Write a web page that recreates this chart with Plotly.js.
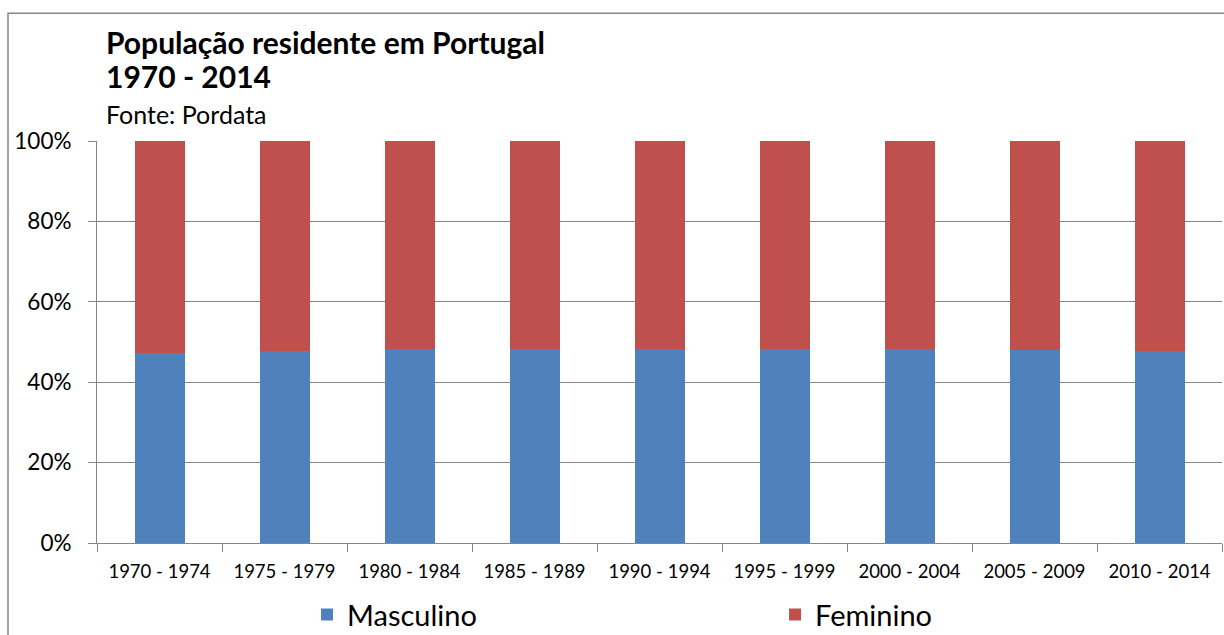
<!DOCTYPE html>
<html>
<head>
<meta charset="utf-8">
<script src="https://cdn.plot.ly/plotly-3.0.1.min.js"></script>
<style>html,body{margin:0;padding:0;background:#fff;}#chart{width:1224px;height:635px;}</style>
</head>
<body>
<div id="chart"></div>
<script>
var periods = ["1970 - 1974","1975 - 1979","1980 - 1984","1985 - 1989","1990 - 1994","1995 - 1999","2000 - 2004","2005 - 2009","2010 - 2014"];
var masculino = [47.3, 47.65, 48.15, 48.15, 48.15, 48.15, 48.15, 48.05, 47.65];
var feminino = masculino.map(function(v){ return 100 - v; });
var yTicks = [0, 20, 40, 60, 80, 100];
var yTickLabels = ["0%", "20%", "40%", "60%", "80%", "100%"];

var font = "Lato, 'Open Sans', sans-serif";
var traces = [
  {type: "bar", name: "Masculino", x: periods, y: masculino, marker: {color: "#4F81BD"}},
  {type: "bar", name: "Feminino", x: periods, y: feminino, marker: {color: "#C0504D"}}
];
var layout = {
  width: 1224, height: 635,
  margin: {l: 97, r: 2, t: 141, b: 92, autoexpand: false},
  barmode: "stack", bargap: 0.6,
  paper_bgcolor: "#fff", plot_bgcolor: "#fff",
  font: {family: font, color: "#000"},
  showlegend: true,
  legend: {orientation: "h", x: 0.1867, xanchor: "left", y: -0.115, yanchor: "top",
           bgcolor: "rgba(0,0,0,0)",
           font: {size: 29, family: font}, entrywidth: 423, entrywidthmode: "pixels",
           itemsizing: "constant", traceorder: "normal"},
  xaxis: {type: "category", tickson: "boundaries", ticks: "outside", ticklen: 8,
          tickcolor: "#868686", showline: true, linecolor: "#868686", linewidth: 1,
          showgrid: false, tickfont: {size: 18.5, family: font}, ticklabelstandoff: 12,
          fixedrange: true},
  yaxis: {range: [0, 100], tickvals: yTicks, ticktext: yTickLabels, ticks: "outside",
          ticklen: 8, tickcolor: "#868686", showline: true, linecolor: "#868686",
          showgrid: true, gridcolor: "#868686", gridwidth: 1, zeroline: false,
          tickfont: {size: 22.5, family: font}, ticklabelstandoff: 12, fixedrange: true},
  shapes: [{type: "rect", xref: "paper", yref: "paper", x0: -0.0791, x1: 1.05, y0: -0.3, y1: 1.318,
            line: {color: "#868686", width: 1.5}, fillcolor: "rgba(0,0,0,0)", layer: "below"}],
  annotations: [
    {xref: "paper", yref: "paper", x: 0.0062, y: 1.2463, xanchor: "left", yanchor: "middle", align: "left",
     showarrow: false, text: "<b>População residente em Portugal</b>",
     font: {size: 30, family: font, color: "#000"}},
    {xref: "paper", yref: "paper", x: 0.0062, y: 1.1617, xanchor: "left", yanchor: "middle", align: "left",
     showarrow: false, text: "<b>1970 - 2014</b>",
     font: {size: 30, family: font, color: "#000"}},
    {xref: "paper", yref: "paper", x: 0.0062, y: 1.0672, xanchor: "left", yanchor: "middle", align: "left",
     showarrow: false, text: "Fonte: Pordata", font: {size: 25, family: font, color: "#000"}}
  ]
};
Plotly.newPlot("chart", traces, layout, {displayModeBar: false, staticPlot: true});
</script>
</body>
</html>
